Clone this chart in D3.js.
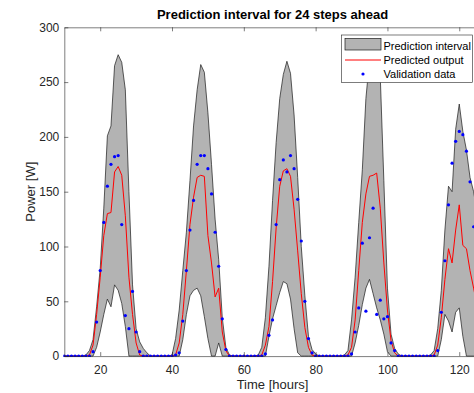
<!DOCTYPE html>
<html>
<head>
<meta charset="utf-8">
<script src="https://cdn.jsdelivr.net/npm/d3@7"></script>
<style>
  body { margin: 0; background: #fff; }
  svg { font-family: "Liberation Sans", Arial, Helvetica, sans-serif; }
  .axis path, .axis line { stroke: #262626; stroke-width: 0.6; }
  .axis text { fill: #262626; font-size: 12px; }
</style>
</head>
<body>
<div id="chart"></div>
<script>
// hours on the x axis (one sample per hour)
const hours = d3.range(10, 126);

// measured power, one value per hour [W]
const validation = [
  0, 0, 0, 0, 0, 0, 0, 0,
  4, 31, 78, 122, 155, 175, 182, 183, 120, 37, 25, 59, 22, 4,
  0, 0, 0, 0, 0, 0, 0, 0, 0, 1,
  3, 32, 78, 115, 142, 175, 183, 183, 171, 148, 113, 82, 34, 6,
  0, 0, 0, 0, 0, 0, 0, 0, 0, 0,
  2, 19, 33, 120, 161, 179, 168, 183, 171, 143, 105, 50, 16, 3,
  0, 0, 0, 0, 0, 0, 0, 0, 0, 0,
  2, 22, 44, 103, 41, 108, 135, 38, 51, 34, 36, 12, 5,
  0, 0, 0, 0, 0, 0, 0, 0, 0, 0, 0,
  5, 40, 87, 138, 176, 196, 205, 202, 187, 159, 118, 80
];

// model output
const predicted = [
  0, 0, 0, 0, 0, 0, 0,
  1, 10, 38, 72, 110, 130, 131, 168, 173, 165, 128, 72, 38, 12, 1,
  0, 0, 0, 0, 0, 0, 0, 0, 0,
  1, 12, 38, 78, 120, 145, 163, 165, 164, 110, 85, 54, 62, 22, 5,
  0, 0, 0, 0, 0, 0, 0, 0, 0,
  1, 10, 27, 68, 117, 155, 169, 171, 164, 134, 96, 57, 26, 8, 1,
  0, 0, 0, 0, 0, 0, 0, 0, 0,
  1, 8, 33, 78, 122, 148, 164, 165, 167, 135, 85, 42, 14, 3,
  0, 0, 0, 0, 0, 0, 0, 0, 0, 0,
  1, 10, 35, 70, 98, 85, 115, 138, 101, 98, 78, 62, 45
];

// prediction interval bounds
const upper = [
  0, 0, 0, 0, 0, 0,
  1, 5, 15, 45, 80, 135, 201, 210, 265, 275, 268, 243, 150, 65, 25, 13, 7, 3, 0,
  0, 0, 0, 0, 0,
  1, 16, 42, 78, 113, 160, 210, 243, 266, 259, 222, 175, 125, 88, 35, 8, 1,
  0, 0, 0, 0, 0, 0, 0,
  1, 8, 35, 82, 142, 195, 235, 257, 269, 258, 220, 163, 100, 55, 18, 6, 2,
  0, 0, 0, 0, 0, 0, 0,
  1, 5, 33, 72, 122, 170, 235, 270, 285, 285, 255, 160, 62, 20, 7, 2,
  0, 0, 0, 0, 0, 0, 0, 0,
  1, 5, 25, 60, 115, 155, 150, 207, 230, 205, 188, 163, 150, 130
];

const lower = [
  0, 0, 0, 0, 0, 0, 0, 0, 0,
  8, 22, 38, 52, 45, 65, 60, 48, 27, 0,
  0, 0, 0, 0, 0, 0, 0, 0, 0, 0, 0, 0, 0, 0,
  15, 38, 55, 60, 62, 55, 36, 16, 0, 0, 12, 0,
  0, 0, 0, 0, 0, 0, 0, 0, 0, 0, 0, 0,
  18, 34, 46, 58, 68, 66, 52, 25, 3, 0,
  0, 0, 0, 0, 0, 0, 0, 0, 0, 0, 0, 0, 0, 0,
  12, 28, 47, 62, 70, 57, 44, 33, 20, 4, 0,
  0, 0, 0, 0, 0, 0, 0, 0, 0, 0, 0, 0, 0,
  15, 38, 32, 22, 40, 44, 18, 0, 0, 0, 0
];

const xTicks = [20, 40, 60, 80, 100, 120];
const yTicks = [0, 50, 100, 150, 200, 250, 300];
const legendLabels = ['Prediction interval', 'Predicted output', 'Validation data'];

class IntervalChart {

  constructor(_config) {
    this.config = {
      parentElement: _config.parentElement,
      containerWidth: _config.containerWidth || 474,
      containerHeight: _config.containerHeight || 393,
      margin: _config.margin || {top: 27.3, left: 64.3, bottom: 36.9, right: -6.8}
    };
    this.initVis();
  }

  initVis() {
    let vis = this;
    const m = vis.config.margin;
    vis.width = vis.config.containerWidth - m.left - m.right;
    vis.height = vis.config.containerHeight - m.top - m.bottom;

    vis.svg = d3.select(vis.config.parentElement).append('svg')
        .attr('width', vis.config.containerWidth)
        .attr('height', vis.config.containerHeight);

    vis.x = d3.scaleLinear().domain([10, 126]).range([0, vis.width]);
    vis.y = d3.scaleLinear().domain([0, 300]).range([vis.height, 0]);

    vis.g = vis.svg.append('g')
        .attr('transform', `translate(${m.left},${m.top})`);

    vis.svg.append('defs').append('clipPath').attr('id', 'plot-clip')
      .append('rect')
        .attr('x', -1).attr('y', -1)
        .attr('width', vis.width + 2).attr('height', vis.height + 2);

    const plot = vis.g.append('g').attr('clip-path', 'url(#plot-clip)');

    // shaded band between lower and upper bounds
    const band = d3.area()
        .x((d, i) => vis.x(hours[i]))
        .y0((d, i) => vis.y(lower[i]))
        .y1(d => vis.y(d));

    plot.append('path')
        .datum(upper)
        .attr('d', band)
        .attr('fill', '#b3b3b3')
        .attr('stroke', '#1a1a1a')
        .attr('stroke-width', 0.7)
        .attr('stroke-linejoin', 'round');

    const line = d3.line()
        .x((d, i) => vis.x(hours[i]))
        .y(d => vis.y(d));

    plot.append('path')
        .datum(predicted)
        .attr('d', line)
        .attr('fill', 'none')
        .attr('stroke', '#ff0000')
        .attr('stroke-width', 1);

    plot.selectAll('.obs')
        .data(validation)
        .join('circle')
        .attr('class', 'obs')
        .attr('cx', (d, i) => vis.x(hours[i]))
        .attr('cy', d => vis.y(d))
        .attr('r', 1.6)
        .attr('fill', '#0000ff');

    // axes, ticks pointing inward like matlab
    vis.g.append('g')
        .attr('class', 'axis')
        .attr('transform', `translate(0,${vis.height})`)
        .call(d3.axisBottom(vis.x).tickValues(xTicks).tickSize(-4).tickSizeOuter(0).tickPadding(9));

    vis.g.append('g')
        .attr('class', 'axis')
        .call(d3.axisTop(vis.x).tickValues(xTicks).tickSize(-4).tickSizeOuter(0).tickFormat(''));

    vis.g.append('g')
        .attr('class', 'axis')
        .call(d3.axisLeft(vis.y).tickValues(yTicks).tickSize(-4).tickSizeOuter(0).tickPadding(5));

    vis.g.append('g')
        .attr('class', 'axis')
        .attr('transform', `translate(${vis.width},0)`)
        .call(d3.axisRight(vis.y).tickValues(yTicks).tickSize(-4).tickSizeOuter(0).tickFormat(''));

    vis.g.append('text')
        .attr('x', vis.width / 2)
        .attr('y', -8)
        .attr('text-anchor', 'middle')
        .style('font-size', '13px')
        .style('font-weight', 'bold')
        .attr('fill', '#000')
        .text('Prediction interval for 24 steps ahead');

    vis.g.append('text')
        .attr('x', vis.width / 2)
        .attr('y', vis.height + 33)
        .attr('text-anchor', 'middle')
        .style('font-size', '13px')
        .attr('fill', '#262626')
        .text('Time [hours]');

    vis.g.append('text')
        .attr('transform', `translate(-29,${vis.height / 2}) rotate(-90)`)
        .attr('text-anchor', 'middle')
        .style('font-size', '13px')
        .attr('fill', '#262626')
        .text('Power [W]');

    vis.drawLegend();
  }

  drawLegend() {
    let vis = this;
    const lg = vis.svg.append('g').attr('transform', 'translate(341.5,35)');

    lg.append('rect')
        .attr('width', 131).attr('height', 47.5)
        .attr('fill', '#fff')
        .attr('stroke', '#262626')
        .attr('stroke-width', 0.6);

    lg.append('rect')
        .attr('x', 3.5).attr('y', 3.5)
        .attr('width', 36).attr('height', 11.5)
        .attr('fill', '#b3b3b3')
        .attr('stroke', '#1a1a1a')
        .attr('stroke-width', 0.7);

    lg.append('line')
        .attr('x1', 3.5).attr('x2', 39.5)
        .attr('y1', 25).attr('y2', 25)
        .attr('stroke', '#ff0000')
        .attr('stroke-width', 1);

    lg.append('circle')
        .attr('cx', 21.5).attr('cy', 39)
        .attr('r', 1.6)
        .attr('fill', '#0000ff');

    lg.selectAll('.lg-label')
        .data(legendLabels)
        .join('text')
        .attr('class', 'lg-label')
        .attr('x', 42)
        .attr('y', (d, i) => 14.7 + i * 14.2)
        .style('font-size', '11px')
        .attr('fill', '#000')
        .text(d => d);
  }
}

const chart = new IntervalChart({ parentElement: '#chart' });
</script>
</body>
</html>
